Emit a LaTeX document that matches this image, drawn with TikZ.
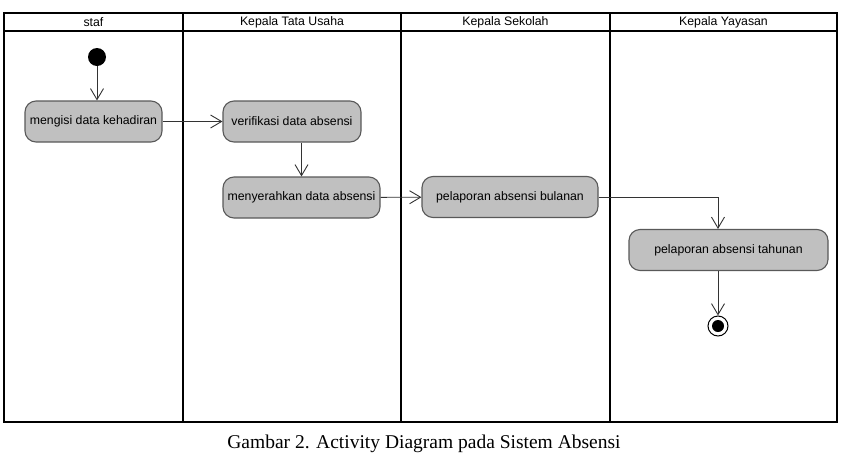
\documentclass[tikz,border=0pt]{standalone}
\usepackage{fontspec}
\setmainfont{Liberation Serif}
\setsansfont{Liberation Sans}
\usepackage{xcolor}
\definecolor{cLine}{HTML}{333333}
\definecolor{cAct}{HTML}{C0C0C0}
\definecolor{cActBorder}{HTML}{595959}
\usepackage{tikz}
\usetikzlibrary{positioning,arrows.meta,calc}
\tikzset{
  lane-frame/.style={draw=black,line width=1.8pt},
  lane-head/.style={font=\sffamily\fontsize{12.3}{14}\selectfont,inner sep=0pt},
  node-act/.style={draw=cActBorder,line width=1.1pt,fill=cAct,rounded corners=11pt,
    minimum height=41pt,align=center,inner sep=2pt,
    font=\sffamily\fontsize{12.3}{14}\selectfont},
  node-start/.style={circle,fill=black,minimum size=18pt,inner sep=0pt},
  node-end-ring/.style={circle,draw=black,line width=1pt,fill=white,minimum size=20pt,inner sep=0pt},
  node-end-dot/.style={circle,fill=black,minimum size=12pt,inner sep=0pt},
  arrow/.style={-{Straight Barb[length=11pt,width=13pt,line width=0.9pt]},line width=0.9pt,draw=cLine},
}
\begin{document}
\begin{tikzpicture}[x=1pt,y=-1pt]
  \useasboundingbox (0,0) rectangle (844,464);
  % swimlanes
  \draw[lane-frame] (4,13) rectangle (837,422);
  \draw[lane-frame] (4,31) -- (837,31);
  \foreach \xl in {183,401,610}
    \draw[lane-frame] (\xl,13) -- (\xl,422);
  \node[lane-head] (h1) at (93.5,22) {staf};
  \node[lane-head] (h2) at (292,22) {Kepala Tata Usaha};
  \node[lane-head] (h3) at (505.5,22) {Kepala Sekolah};
  \node[lane-head] (h4) at (723.5,22) {Kepala Yayasan};

  % activities
  \node[node-start] (start) at (97,57) {};
  \node[node-act,minimum width=137pt] (isi) at (93.5,121.5) {mengisi data kehadiran};
  \node[node-act,minimum width=138pt] (verif) at (292,121.5) {verifikasi data absensi};
  \node[node-act,minimum width=157pt] (serah) at (301.5,197.5) {menyerahkan data absensi};
  \node[node-act,minimum width=176pt] (bulan) at (510,197) {pelaporan absensi bulanan};
  \node[node-act,minimum width=199pt] (tahun) at (728.5,250) {pelaporan absensi tahunan};
  \node[node-end-ring] (fin) at (718,326) {};
  \node[node-end-dot] (findot) at (fin) {};

  \draw[arrow] (start) -- (isi.north -| start);
  \draw[arrow] (isi) -- (verif);
  \draw[arrow] (verif.south -| serah) -- (serah);
  \draw[arrow] (serah) -- (bulan);
  \draw[arrow] (bulan.east) -| (tahun.north -| fin);
  \draw[arrow] (tahun.south -| fin) -- (fin);

  \node[font=\fontsize{19.5}{22}\selectfont] (cap) at (424,444) {Gambar 2. Activity Diagram pada Sistem Absensi};
\end{tikzpicture}
\end{document}
